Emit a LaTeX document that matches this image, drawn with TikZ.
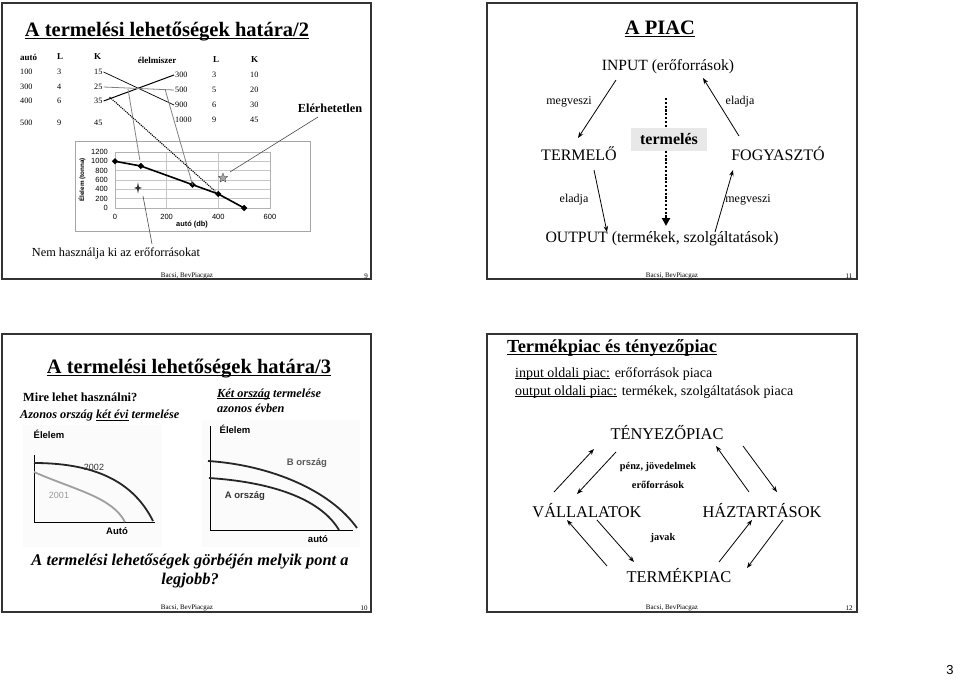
\documentclass[tikz,border=0pt]{standalone}
\usepackage{fontspec}
\setmainfont{Liberation Serif}
\setsansfont{Liberation Sans}
\usetikzlibrary{arrows.meta,shapes.geometric}
\newcommand{\pxsize}[1]{\fontsize{#1}{#1}\selectfont}
\newlength{\undlw}
\newcommand{\undl}[1]{\settowidth{\undlw}{#1}\rlap{\rule[-0.12em]{\undlw}{0.06em}}#1}

\begin{document}
\begin{tikzpicture}[x=1pt, y=-1pt, every node/.style={inner sep=1pt},
  slide/.style={draw=black!80, line width=1.3pt},
  ttl/.style={font=\pxsize{20.5}\bfseries},
  tbl/.style={font=\pxsize{8.2}, anchor=west},
  tblh/.style={font=\pxsize{9}\bfseries, anchor=west},
  tick/.style={font=\sffamily\pxsize{7.5}},
  big/.style={font=\pxsize{16}},
  lbl/.style={font=\pxsize{12}},
  sansb/.style={font=\sffamily\bfseries\pxsize{9.5}},
  foot/.style={font=\pxsize{7}},
  arr/.style={-{Stealth[length=6pt,width=4.5pt]}, line width=0.8pt},
  dia/.style={diamond, fill=black, inner sep=0pt, minimum size=6.5pt},
  curve/.style={line width=1.8pt, black!85}]
\useasboundingbox (0,0) rectangle (960,682);

% slide 9
\draw[slide] (2,3) rectangle (371,279);
\node[ttl] (ttl9) at (167,32) {\undl{A termelési lehetőségek határa/2}};
\node[tblh] (hauto) at (19,57) {autó}; \node[tblh] (hal) at (56,57) {L}; \node[tblh] (hak) at (93,57) {K};
\node[tbl] (a100) at (19,72) {100}; \node[tbl] (al3) at (56,72) {3}; \node[tbl] (ak15) at (93,72) {15};
\node[tbl] (a300) at (19,87) {300}; \node[tbl] (al4) at (56,87) {4}; \node[tbl] (ak25) at (93,87) {25};
\node[tbl] (a400) at (19,101) {400}; \node[tbl] (al6) at (56,101) {6}; \node[tbl] (ak35) at (93,101) {35};
\node[tbl] (a500) at (19,123) {500}; \node[tbl] (al9) at (56,123) {9}; \node[tbl] (ak45) at (93,123) {45};
\node[tblh, anchor=center] (helel) at (157,60) {élelmiszer}; \node[tblh] (hel) at (212,60) {L}; \node[tblh] (hek) at (250,60) {K};
\node[tbl] (e300) at (174,75) {300}; \node[tbl] (el3) at (211,75) {3}; \node[tbl] (ek10) at (249,75) {10};
\node[tbl] (e500) at (174,90) {500}; \node[tbl] (el5) at (211,90) {5}; \node[tbl] (ek20) at (249,90) {20};
\node[tbl] (e900) at (174,105) {900}; \node[tbl] (el6) at (211,105) {6}; \node[tbl] (ek30) at (249,105) {30};
\node[tbl] (e1000) at (174,120) {1000}; \node[tbl] (el9) at (211,120) {9}; \node[tbl] (ek45) at (249,120) {45};

\draw[gray!70, line width=0.5pt] (75,141) rectangle (310,231);
\begin{scope}[shift={(115,208)}, x=0.2583pt, y=0.04667pt]
\draw[gray!45, line width=0.4pt, xstep=200, ystep=200] (0,0) grid (600,1200);
\draw[gray!60, line width=0.5pt] (0,0) rectangle (600,1200);
\coordinate (p0) at (0,1000); \coordinate (p1) at (100,900); \coordinate (p2) at (300,500);
\coordinate (p3) at (400,300); \coordinate (p4) at (500,0);
\coordinate (plus) at (89,430); \coordinate (unreach) at (418,643);
\draw[line width=1.6pt] (p0) -- (p1) -- (p2) -- (p3) -- (p4);
\node[dia] (d0) at (p0) {}; \node[dia] (d1) at (p1) {}; \node[dia] (d2) at (p2) {};
\node[dia] (d3) at (p3) {}; \node[dia] (d4) at (p4) {};
\node[tick, anchor=east] (t1200) at (-23,1200) {1200}; \node[tick, anchor=east] (t1000) at (-23,1000) {1000};
\node[tick, anchor=east] (t800) at (-23,800) {800}; \node[tick, anchor=east] (t600) at (-23,600) {600};
\node[tick, anchor=east] (t400) at (-23,400) {400}; \node[tick, anchor=east] (t200) at (-23,200) {200};
\node[tick, anchor=east] (t0) at (-23,0) {0};
\node[tick] (x0) at (0,-190) {0}; \node[tick] (x200) at (200,-190) {200};
\node[tick] (x400) at (400,-190) {400}; \node[tick] (x600) at (600,-190) {600};
\end{scope}
\fill[black!80, shift={(plus)}] (0,-5.5) -- (1,-1) -- (4,0) -- (1,1) -- (0,5.5) -- (-1,1) -- (-4,0) -- (-1,-1) -- cycle;
\filldraw[fill=gray!70, draw=gray!50!black, line width=0.3pt, shift={(unreach)}] (-90:5) -- (-54:2.2) -- (-18:5) -- (18:2.2) -- (54:5) -- (90:2.2) -- (126:5) -- (162:2.2) -- (198:5) -- (234:2.2) -- cycle;
\node[font=\sffamily\bfseries\pxsize{6.3}, rotate=90] (ylab) at (82,180) {Élelem (tonna)};
\node[font=\sffamily\bfseries\pxsize{7.4}] (xlab) at (192,225) {autó (db)};

\coordinate (g1) at (128,89); \coordinate (g2) at (165,89);
\draw[line width=0.7pt] (ak15.east) -- (e900.west);
\draw[line width=1pt] (ak35.east) -- (e300.west);
\draw[gray, line width=0.8pt] (ak25.east) -- (e500.west);
\draw[gray, line width=0.8pt, shorten >=6pt] (g1) -- (p1);
\draw[gray, line width=0.8pt] (g2) -- (p2);
\draw[densely dotted, line width=1.1pt, shorten >=4pt] ([xshift=6pt]ak35.north east) -- (p3);

\node[font=\pxsize{12.3}\bfseries] (elerh) at (330,108) {Elérhetetlen};
\draw[gray!60!black, line width=0.6pt] ([shift={(-12,9)}]elerh.center) -- ([shift={(7,-6)}]unreach);
\node[font=\pxsize{12.3}] (nem) at (116,253) {Nem használja ki az erőforrásokat};
\draw[gray!60!black, line width=0.6pt] ([shift={(36,-9)}]nem.center) -- ([shift={(5,8)}]plus);
\node[foot] (f9) at (187,276) {Bacsi, BevPiacgaz};
\node[foot] (n9) at (366,276) {9};

% slide 11
\draw[slide] (487,3) rectangle (857,279);
\node[ttl] (ttl11) at (660,29) {\undl{A PIAC}};
\node[font=\pxsize{15.6}] (input) at (668,67) {INPUT (erőforrások)};
\node[big] (termelo) at (579,154) {TERMELŐ};
\node[big] (fogy) at (778,154) {FOGYASZTÓ};
\node[font=\pxsize{15.8}] (output) at (662,239) {OUTPUT (termékek, szolgáltatások)};
\node[font=\pxsize{16}\bfseries, fill=gray!18, minimum width=76pt, minimum height=23pt] (termeles) at (669,139) {termelés};
\node[lbl] (megv1) at (569,102) {megveszi};
\node[lbl] (elad1) at (740,102) {eladja};
\node[lbl] (elad2) at (574,200) {eladja};
\node[lbl] (megv2) at (748,200) {megveszi};
\draw[arr] ([shift={(-52,13)}]input.center) -- ([shift={(-1,-16)}]termelo.center);
\draw[arr] ([shift={(-39,-18)}]fogy.center) -- ([shift={(35,11)}]input.center);
\draw[arr] ([shift={(15,16)}]termelo.center) -- ([shift={(-55,-7)}]output.center);
\draw[arr] ([shift={(53,-7)}]output.center) -- ([shift={(-45,16)}]fogy.center);
\coordinate (prodtop) at (666,98); \coordinate (prodend) at (666,226);
\draw[line width=2.2pt, dash pattern=on 2.2pt off 1.6pt] (prodtop) -- ([xshift=-3pt]termeles.north);
\draw[line width=2.2pt, dash pattern=on 2.2pt off 1.6pt, -{Triangle[length=8pt,width=8pt]}] ([xshift=-3pt]termeles.south) -- (prodend);
\node[foot] (f11) at (672,276) {Bacsi, BevPiacgaz};
\node[foot] (n11) at (849,276) {11};

% slide 10
\draw[slide] (2,334) rectangle (371,612);
\node[ttl] (ttl10) at (189,369) {\undl{A termelési lehetőségek határa/3}};
\node[font=\pxsize{12.4}\bfseries, anchor=west] (mire) at (22,397) {Mire lehet használni?};
\node[font=\pxsize{12.3}\bfseries\itshape, anchor=west] (azonos) at (19,416) {Azonos ország \undl{két évi} termelése};
\node[font=\fontsize{12.3}{15}\selectfont\bfseries\itshape, anchor=west, align=left] (ketorszag) at (216,400.5) {\undl{Két ország} termelése\\azonos évben};
\fill[gray!3] (23,425) rectangle (162,547);
\fill[gray!3] (202,420) rectangle (360,547);
\node[sansb] (elelem1) at (49,434) {Élelem};
\draw[line width=0.8pt] (34,455) -- (34,522) -- (155,522);
\draw[curve] (34,463) .. controls (100,463) and (135,485) .. (153,521);
\draw[line width=1.8pt, gray!75] (34,472) .. controls (75,490) and (112,497) .. (125,522);
\node[font=\sffamily\pxsize{9}, black!80] (y2002) at (94,467) {2002};
\node[font=\sffamily\pxsize{9}, gray!80] (y2001) at (59,495) {2001};
\node[sansb] (auto1) at (117,531) {Autó};
\node[sansb] (elelem2) at (235,429) {Élelem};
\draw[line width=0.8pt] (210,426) -- (210,530) -- (353,530);
\draw[curve] (208,461) .. controls (270,465) and (330,490) .. (357,528);
\draw[curve] (209,478) .. controls (270,482) and (320,498) .. (339,530);
\node[sansb, black!65] (borsz) at (307,463) {B ország};
\node[sansb, black!80] (aorsz) at (245,496) {A ország};
\node[sansb] (auto2) at (318,539) {autó};
\node[font=\fontsize{16.4}{19}\selectfont\bfseries\itshape, align=center] (kerdes) at (190,570.5) {A termelési lehetőségek görbéjén melyik pont a\\legjobb?};
\node[foot] (f10) at (187,608) {Bacsi, BevPiacgaz};
\node[foot] (n10) at (364,608) {10};

% slide 12
\draw[slide] (487,334) rectangle (857,612);
\node[font=\pxsize{18.4}\bfseries, anchor=west] (ttl12) at (506,348) {\undl{Termékpiac és tényezőpiac}};
\node[font=\pxsize{14}, anchor=west] (inp) at (514,374) {\undl{input oldali piac:} erőforrások piaca};
\node[font=\pxsize{14}, anchor=west] (outp) at (514,392) {\undl{output oldali piac:} termékek, szolgáltatások piaca};
\node[font=\pxsize{16.4}] (teny) at (667,433) {TÉNYEZŐPIAC};
\node[font=\pxsize{16.4}] (vall) at (587,511) {VÁLLALATOK};
\node[font=\pxsize{16.4}] (haz) at (762,511) {HÁZTARTÁSOK};
\node[font=\pxsize{16.4}] (termek) at (679,576) {TERMÉKPIAC};
\node[font=\pxsize{10.3}\bfseries] (penz) at (658,467) {pénz, jövedelmek};
\node[font=\pxsize{10.3}\bfseries] (erof) at (658,485) {erőforrások};
\node[font=\pxsize{10.3}\bfseries] (javak) at (663,538) {javak};
\draw[arr] ([shift={(-33,-19)}]vall.center) -- ([shift={(-73,16)}]teny.center);
\draw[arr] ([shift={(-51,19)}]teny.center) -- ([shift={(-10,-17)}]vall.center);
\draw[arr] ([shift={(-13,-19)}]haz.center) -- ([shift={(49,13)}]teny.center);
\draw[arr] ([shift={(76,13)}]teny.center) -- ([shift={(15,-19)}]haz.center);
\draw[arr] ([shift={(-72,-10)}]termek.center) -- ([shift={(-20,9)}]vall.center);
\draw[arr] ([shift={(10,9)}]vall.center) -- ([shift={(-45,-14)}]termek.center);
\draw[arr] ([shift={(40,-14)}]termek.center) -- ([shift={(-10,9)}]haz.center);
\draw[arr] ([shift={(21,9)}]haz.center) -- ([shift={(68,-8)}]termek.center);
\node[foot] (f12) at (672,608) {Bacsi, BevPiacgaz};
\node[foot] (n12) at (849,608) {12};

\node[font=\sffamily\pxsize{13}] (page) at (950,670) {3};
\end{tikzpicture}
\end{document}
